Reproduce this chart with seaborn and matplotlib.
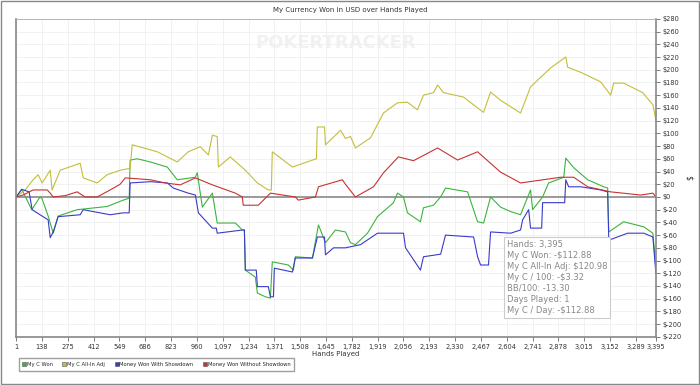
import numpy as np
import pandas as pd
import seaborn as sns
import matplotlib.pyplot as plt
from matplotlib.lines import Line2D

# Data (hands played, dollars)
won_hands = [1, 31, 84, 128, 139, 171, 198, 224, 325, 484, 569, 601, 606, 644, 713, 803, 856,
             952, 962, 989, 1042, 1068, 1164, 1201, 1212, 1217, 1270, 1281, 1323, 1350, 1360,
             1445, 1472, 1482, 1573, 1605, 1642, 1695, 1748, 1775, 1801, 1865, 1918, 2003,
             2024, 2056, 2077, 2146, 2162, 2215, 2253, 2279, 2396, 2449, 2481, 2518, 2571,
             2624, 2677, 2730, 2741, 2794, 2826, 2906, 2917, 2959, 3033, 3118, 3139, 3145,
             3224, 3331, 3379, 3395]
won_vals = [0, 12, -20, 0, -3, -30, -57, -30, -20, -15, -5, -2, 58, 60, 55, 47, 27,
            31, 38, -16, 6, -41, -41, -52, -52, -115, -126, -151, -157, -159, -102,
            -107, -115, -94, -96, -44, -72, -52, -55, -72, -75, -57, -31, -9,
            6, 0, -25, -39, -17, -13, 0, 14, 8, -39, -41, 0, -16,
            -23, -28, 11, -20, 0, 22, 31, 61, 46, 27, 16, 14, -55,
            -39, -47, -57, -112.88]

allin_hands = [1, 49, 91, 118, 139, 182, 192, 235, 341, 357, 431, 484, 553, 606, 617, 750, 856,
               914, 978, 1021, 1042, 1068, 1074, 1137, 1217, 1281, 1339, 1355, 1360, 1467,
               1573, 1594, 1599, 1637, 1642, 1695, 1722, 1748, 1775, 1801, 1881, 1950, 2024,
               2077, 2130, 2162, 2215, 2237, 2268, 2375, 2449, 2481, 2518, 2571, 2677, 2730,
               2837, 2917, 2927, 2996, 3102, 3155, 3171, 3224, 3325, 3379, 3395]
allin_vals = [0, 11, 27, 35, 22, 42, 11, 42, 53, 30, 22, 35, 42, 45, 82, 71, 55,
              71, 79, 66, 97, 95, 47, 63, 42, 22, 11, 11, 71, 47,
              58, 60, 110, 110, 82, 97, 105, 92, 95, 77, 93, 132, 148,
              149, 137, 160, 164, 176, 164, 157, 140, 133, 165, 152, 132, 173,
              203, 220, 204, 196, 181, 160, 179, 179, 164, 145, 120.98]

sd_hands = [1, 31, 70, 86, 128, 171, 182, 198, 224, 341, 357, 500, 569, 601, 606, 713, 803, 835,
            914, 952, 968, 1042, 1063, 1068, 1201, 1212, 1217, 1275, 1281, 1339, 1350, 1366,
            1371, 1467, 1482, 1573, 1599, 1637, 1642, 1685, 1748, 1828, 1918, 2056, 2067,
            2146, 2162, 2253, 2279, 2428, 2449, 2465, 2507, 2518, 2624, 2677, 2688, 2720,
            2730, 2789, 2794, 2911, 2917, 2932, 2996, 3102, 3139, 3145, 3245, 3331, 3379, 3395]
sd_vals = [0, 12, 8, -20, -28, -36, -64, -55, -31, -28, -20, -28, -25, -25, 22, 24, 22, 14,
           6, 3, -25, -49, -49, -57, -52, -52, -115, -115, -141, -141, -157, -157,
           -112, -118, -96, -96, -63, -63, -91, -80, -80, -75, -57, -57, -80,
           -115, -94, -90, -60, -63, -94, -107, -107, -55, -57, -52, -36, -20,
           -49, -49, -9, -9, 27, 16, 16, 11, 8, -68, -57, -57, -63, -120]

nosd_hands = [1, 38, 91, 166, 182, 198, 261, 325, 367, 431, 500, 553, 580, 713, 792, 872, 952,
              1042, 1164, 1201, 1206, 1286, 1350, 1482, 1498, 1589, 1605, 1732, 1748, 1801,
              1897, 1950, 2029, 2109, 2237, 2343, 2449, 2571, 2677, 2890, 2959, 3033, 3155,
              3315, 3379, 3395]
nosd_vals = [0, 3, 11, 11, 6, 0, 2, 8, 0, 0, 11, 20, 30, 27, 22, 19, 30,
             19, 6, 0, -13, -13, 6, 0, -5, 0, 16, 27, 20, 0,
             16, 38, 63, 57, 77, 58, 71, 39, 22, 31, 31, 16, 8,
             3, 6, 0]

series = [
    ("My C Won", won_hands, won_vals, "#3cb43c"),
    ("My C All-In Adj", allin_hands, allin_vals, "#c4be3a"),
    ("Money Won With Showdown", sd_hands, sd_vals, "#3a3acc"),
    ("Money Won Without Showdown", nosd_hands, nosd_vals, "#c83232"),
]

x_ticks = [1, 138, 275, 412, 549, 686, 823, 960, 1097, 1234, 1371, 1508, 1645, 1782,
           1919, 2056, 2193, 2330, 2467, 2604, 2741, 2878, 3015, 3152, 3289, 3395]
y_ticks = list(range(-220, 281, 20))

sns.set_style("white")
plt.rcParams['font.family'] = ['DejaVu Sans']

fig = plt.figure(figsize=(7, 3.85), dpi=100)
ax = fig.add_axes([0.023, 0.125, 0.914, 0.826])

for name, h, v, c in series:
    sns.lineplot(x=h, y=v, ax=ax, color=c, linewidth=0.8, label=name, legend=False)

ax.axhline(0, color="#9a9a9a", linewidth=1.4, zorder=1)

ax.set_xlim(1, 3395)
ax.set_ylim(-220, 280)
ax.set_xticks(x_ticks)
ax.set_xticklabels([f"{t:,}" for t in x_ticks], fontsize=4.8, color="#333333")
ax.set_yticks(y_ticks)
ax.set_yticklabels([f"${t}" for t in y_ticks], fontsize=4.8, color="#333333")
ax.yaxis.tick_right()
ax.yaxis.set_label_position("right")
ax.tick_params(axis="both", length=3, width=0.6, color="#666666", pad=2, direction="out")
ax.tick_params(axis="y", left=False, right=True)
ax.tick_params(axis="x", bottom=True)
ax.grid(True, color="#efefef", linewidth=0.6)
ax.set_axisbelow(True)
for side in ["left", "bottom", "right"]:
    ax.spines[side].set_color("#888888")
    ax.spines[side].set_linewidth(1.2)
ax.spines["top"].set_color("#aaaaaa")
ax.spines["top"].set_linewidth(0.6)

ax.set_xlabel("Hands Played", fontsize=5, color="#333333", labelpad=1)
ax.set_ylabel("$", fontsize=5.5, color="#333333", labelpad=3, rotation=90)

fig.text(0.5, 0.973, "My Currency Won in USD over Hands Played", ha="center", va="center",
         fontsize=5, color="#333333")

# watermark
ax.text(0.5, 0.925, "POKERTRACKER", transform=ax.transAxes, ha="center", va="center",
        fontsize=13, fontweight="bold", color="#f1f1f1", zorder=0)

# tooltip box
tip = ("Hands: 3,395\nMy C Won: -$112.88\nMy C All-In Adj: $120.98\nMy C / 100: -$3.32\n"
       "BB/100: -13.30\nDays Played: 1\nMy C / Day: -$112.88")
fig.text(507 / 700, 1 - 240 / 385, tip, ha="left", va="top", fontsize=6, color="#888888",
         linespacing=1.28,
         bbox=dict(boxstyle="square,pad=0.35", facecolor="white", edgecolor="#cccccc", linewidth=0.8))

handles = [Line2D([], [], marker="s", linestyle="none", markersize=3.5, markerfacecolor=c,
                  markeredgecolor="#555555", markeredgewidth=0.4) for _, _, _, c in series]
fig.legend(handles, [s[0] for s in series], loc="lower left", bbox_to_anchor=(16 / 700, 0.03),
           ncol=4, fontsize=3.8, frameon=True, fancybox=False, edgecolor="#888888",
           handletextpad=0.2, columnspacing=1.8, borderpad=0.7, handlelength=0.7)

# outer border
fig.patches.append(plt.Rectangle((0.001, 0.002), 0.997, 0.995, transform=fig.transFigure,
                                 fill=False, edgecolor="#888888", linewidth=1.0))

fig.savefig("out.png", dpi=100)
